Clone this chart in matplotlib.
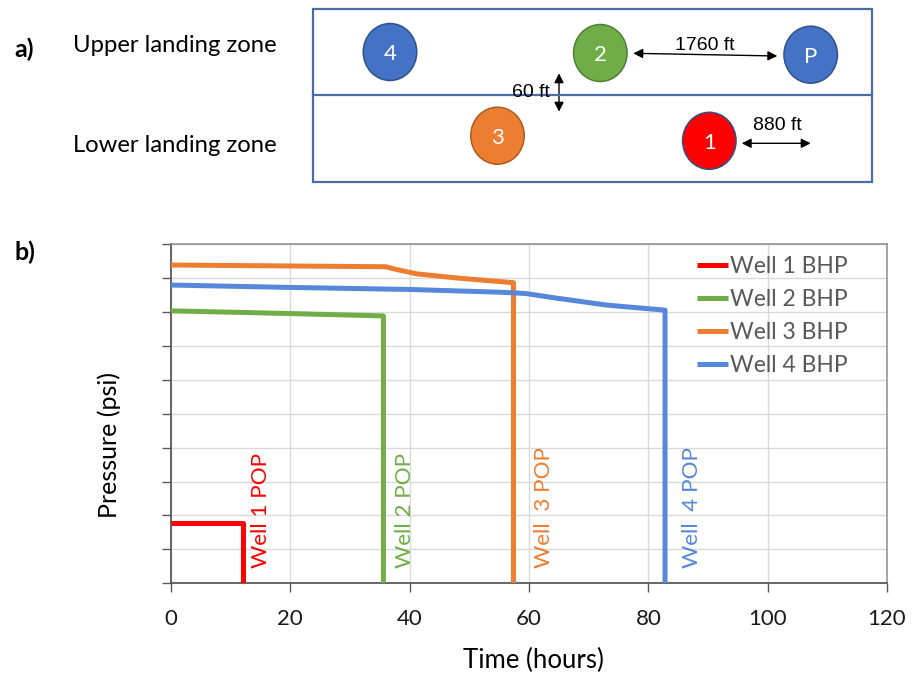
import matplotlib
matplotlib.use("Agg")
import matplotlib.pyplot as plt
from matplotlib.patches import Ellipse, Rectangle, FancyArrowPatch, ArrowStyle

# ---------------- data ----------------
# Bottom-hole pressure histories: time (hours), pressure (psi)
well1_t = [0, 12, 12]
well1_p = [885, 885, 0]
well2_t = [0, 20, 35.6, 35.6]
well2_p = [4015, 3975, 3940, 0]
well3_t = [0, 36, 37.5, 41.2, 48.4, 57.4, 57.4]
well3_p = [4690, 4665, 4630, 4560, 4495, 4430, 0]
well4_t = [0, 20, 40, 55, 59.5, 64, 73, 82.8, 82.8]
well4_p = [4395, 4360, 4330, 4290, 4270, 4210, 4100, 4025, 0]

series_labels = ["Well 1 BHP", "Well 2 BHP", "Well 3 BHP", "Well 4 BHP"]
pop_labels = ["Well 1 POP", "Well 2 POP", "Well  3 POP", "Well  4 POP"]
x_ticks = [0, 20, 40, 60, 80, 100, 120]
y_ticks = list(range(0, 5001, 500))

# Well layout sketch
well_names = ["4", "2", "P", "3", "1"]
zone_labels = ["Upper landing zone", "Lower landing zone"]
spacing_labels = ["1760 ft", "60 ft", "880 ft"]

# ---------------- styling ----------------
colors = ["#FF0000", "#70AD47", "#ED7D31", "#5687DA"]
well_fill = {"4": "#4472C4", "2": "#70AD47", "P": "#4472C4",
             "3": "#ED7D31", "1": "#FF0000"}
well_edge = {"4": "#2F528F", "2": "#507E32", "P": "#2F528F",
             "3": "#AE5A21", "1": "#2F528F"}
# sketch positions in pixels (centre x, centre y)
well_xy = {"4": (390, 52), "2": (600.3, 53), "P": (810.7, 54.7),
           "3": (497.5, 135.7), "1": (709.3, 140.8)}

FONT = "Lato"
W, H = 917, 673
fig = plt.figure(figsize=(W / 100, H / 100), dpi=100)

# overlay in pixel coordinates for the sketch and panel tags
ov = fig.add_axes([0, 0, 1, 1])
ov.set_xlim(0, W)
ov.set_ylim(H, 0)
ov.axis("off")

box_col = "#4A6DA7"
ov.add_patch(Rectangle((313.3, 9), 558.4, 172.7, fill=False, ec=box_col, lw=1.6))
ov.plot([313.3, 871.7], [95.3, 95.3], color=box_col, lw=1.6)

for name in well_names:
    cx, cy = well_xy[name]
    ov.add_patch(Ellipse((cx, cy), 53.5, 57, fc=well_fill[name],
                         ec=well_edge[name], lw=1.1))
    ov.text(cx, cy + 7.9, name, color="white", fontsize=16, family=FONT,
            ha="center", va="baseline")

ov.text(72.7, 51.7, zone_labels[0], fontsize=17.2, family=FONT, ha="left", va="baseline")
ov.text(72.7, 152.3, zone_labels[1], fontsize=17.2, family=FONT, ha="left", va="baseline")
ov.text(14, 57, "a)", fontsize=18, family=FONT, weight="bold", ha="left", va="baseline")
ov.text(14, 260, "b)", fontsize=18, family=FONT, weight="bold", ha="left", va="baseline")

astyle = ArrowStyle("<|-|>", head_length=0.4, head_width=0.2)
def dbl_arrow(p0, p1):
    ov.add_patch(FancyArrowPatch(p0, p1, arrowstyle=astyle, mutation_scale=14,
                                 color="black", lw=1.0, shrinkA=0, shrinkB=0))

dbl_arrow((633.3, 53.3), (777.3, 56))
dbl_arrow((559, 73.3), (559, 111.7))
dbl_arrow((741.7, 143.3), (810.7, 143.3))
ov.text(704.5, 50, spacing_labels[0], fontsize=14, family="Liberation Sans",
        ha="center", va="baseline")
ov.text(550, 96.7, spacing_labels[1], fontsize=14, family="Liberation Sans",
        ha="right", va="baseline")
ov.text(777.3, 130, spacing_labels[2], fontsize=14, family="Liberation Sans",
        ha="center", va="baseline")

# ---------------- pressure chart ----------------
ax = fig.add_axes([171 / W, 1 - 583.3 / H, 716 / W, 339.3 / H])
series = [(well1_t, well1_p), (well2_t, well2_p), (well3_t, well3_p), (well4_t, well4_p)]
for (t, p), c, lab in zip(series, colors, series_labels):
    ax.plot(t, p, color=c, lw=3.6, label=lab, solid_joinstyle="round",
            solid_capstyle="butt", zorder=3)

ax.set_xlim(0, 120)
ax.set_ylim(0, 5000)
ax.set_xticks(x_ticks)
ax.set_yticks(y_ticks)
ax.set_yticklabels([])
ax.grid(True, color="#D9D9D9", lw=1.0, zorder=0)
ax.set_axisbelow(True)
for side in ["left", "bottom"]:
    ax.spines[side].set_color("#595959")
    ax.spines[side].set_linewidth(1.3)
for side in ["top", "right"]:
    ax.spines[side].set_color("#8C8C8C")
    ax.spines[side].set_linewidth(1.1)
ax.tick_params(axis="both", direction="out", length=6.3, width=1.0, color="#595959")
ax.tick_params(axis="x", labelsize=16, pad=12, labelcolor="#1A1A1A")
for lbl in ax.get_xticklabels():
    lbl.set_family(FONT)

# well put-on-production markers
pop_x = [16.1, 40.3, 63.6, 88.4]
for x, txt, c in zip(pop_x, pop_labels, colors):
    ax.text(x, 225, txt, rotation=90, rotation_mode="anchor", ha="left",
            va="baseline", color=c, fontsize=16.2, family=FONT)

leg = ax.legend(loc="upper left", bbox_to_anchor=(697 / W, 1 - 256 / H),
                bbox_transform=fig.transFigure, frameon=False,
                handlelength=1.35, handletextpad=0.1, labelspacing=0.53,
                borderpad=0, borderaxespad=0, prop={"family": FONT, "size": 16.5},
                labelcolor="#595959")

ov.text(533, 660, "Time (hours)", fontsize=18.5, family=FONT, ha="center", va="center")
ov.text(109, 445, "Pressure (psi)", fontsize=18, family=FONT, rotation=90,
        ha="center", va="center")

fig.savefig("out.png", dpi=100)
